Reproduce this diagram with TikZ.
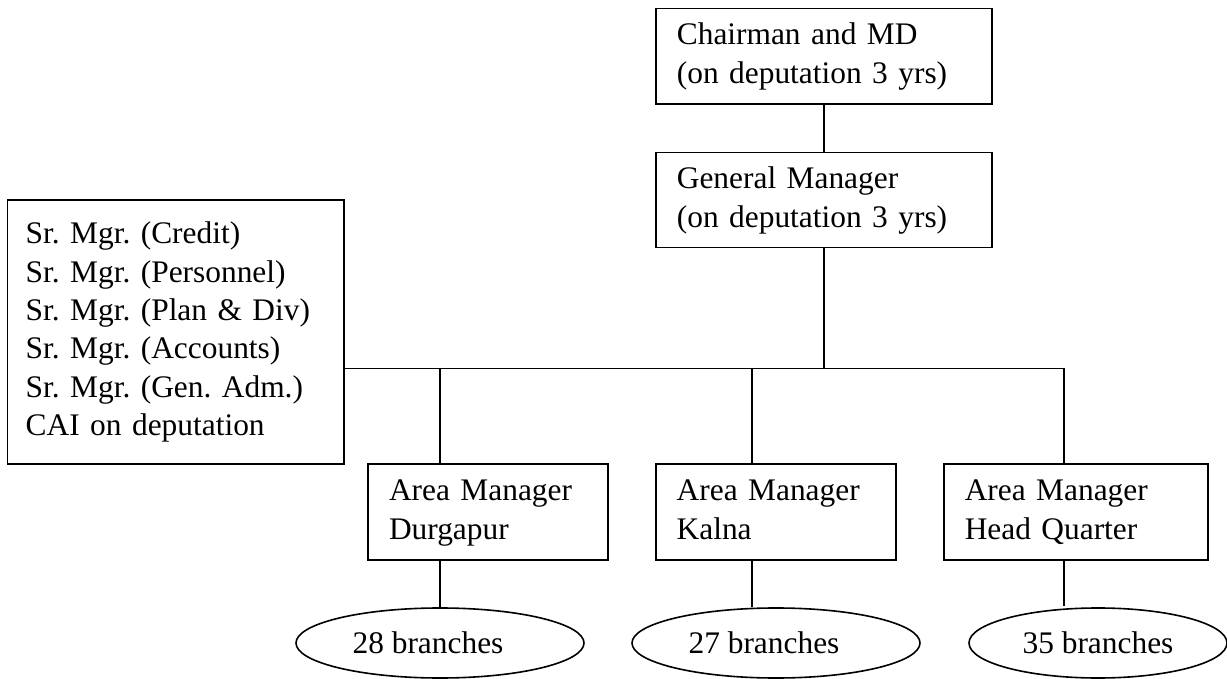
\documentclass[tikz,border=0pt]{standalone}
\usepackage{fontspec}
\setmainfont{Liberation Serif}
\usetikzlibrary{shapes.geometric}
\begin{document}
\frenchspacing
\begin{tikzpicture}[x=1pt,y=-1pt,
  txt/.style={font=\fontsize{31.4}{38.3}\selectfont\frenchspacing},
  box/.style={txt, draw, line width=1.6pt, rectangle, align=left, inner xsep=21pt, inner ysep=0pt},
  branch/.style={txt, draw, line width=1.6pt, ellipse, inner sep=0pt, minimum height=70pt},
  link/.style={line width=1.6pt}]
\useasboundingbox (0,0) rectangle (1227,679);
% boxes
\node[box, text width=294.3pt, minimum height=95.7pt] (chair) at (824,56.2) {\strut Chairman and MD\\(on deputation 3 yrs)\strut};
\node[box, text width=294.3pt, minimum height=95pt] (gm) at (824,200.2) {\strut General Manager\\(on deputation 3 yrs)\strut};
\node[box, text width=300pt, minimum height=264pt, inner xsep=18.3pt] (left) at (175.7,332) {\strut Sr. Mgr. (Credit)\\Sr. Mgr. (Personnel)\\Sr. Mgr. (Plan \& Div)\\Sr. Mgr. (Accounts)\\Sr. Mgr. (Gen. Adm.)\\CAI on deputation\strut};
\node[box, text width=198pt, minimum height=96pt] (dur) at (488,512.2) {\strut Area Manager\\Durgapur\strut};
\node[box, text width=198pt, minimum height=96pt] (kal) at (775.7,512.2) {\strut Area Manager\\Kalna\strut};
\node[box, text width=222.3pt, minimum height=96pt] (hq) at (1075.9,512.2) {\strut Area Manager\\Head Quarter\strut};
% ellipses
\node[branch, minimum width=288pt] (e1) at (440,643) {28 branches\hspace*{24pt}};
\node[branch, minimum width=288pt] (e2) at (776,643) {27 branches\hspace*{24pt}};
\node[branch, minimum width=258pt] (e3) at (1098,643) {35 branches};
% junctions
\coordinate (tgm) at (824,368.5);
\coordinate (tdur) at (440,368.5);
\coordinate (tkal) at (752,368.5);
\coordinate (thq) at (1064,368.5);
% connectors
\draw[link] (chair.south) -- (gm.north);
\draw[link] (gm.south) -- (tgm);
\draw[link] (left.east |- tgm) -- (thq) -- (hq.north -| thq);
\draw[link] (tdur) -- (dur.north -| tdur);
\draw[link] (tkal) -- (kal.north -| tkal);
\draw[link] (dur.south -| tdur) -- (e1.north -| tdur);
\draw[link] (kal.south -| tkal) -- ([yshift=0.5pt]e2.north -| tkal);
\draw[link] (hq.south -| thq) -- ([yshift=1.2pt]e3.north -| thq);
\end{tikzpicture}
\end{document}
